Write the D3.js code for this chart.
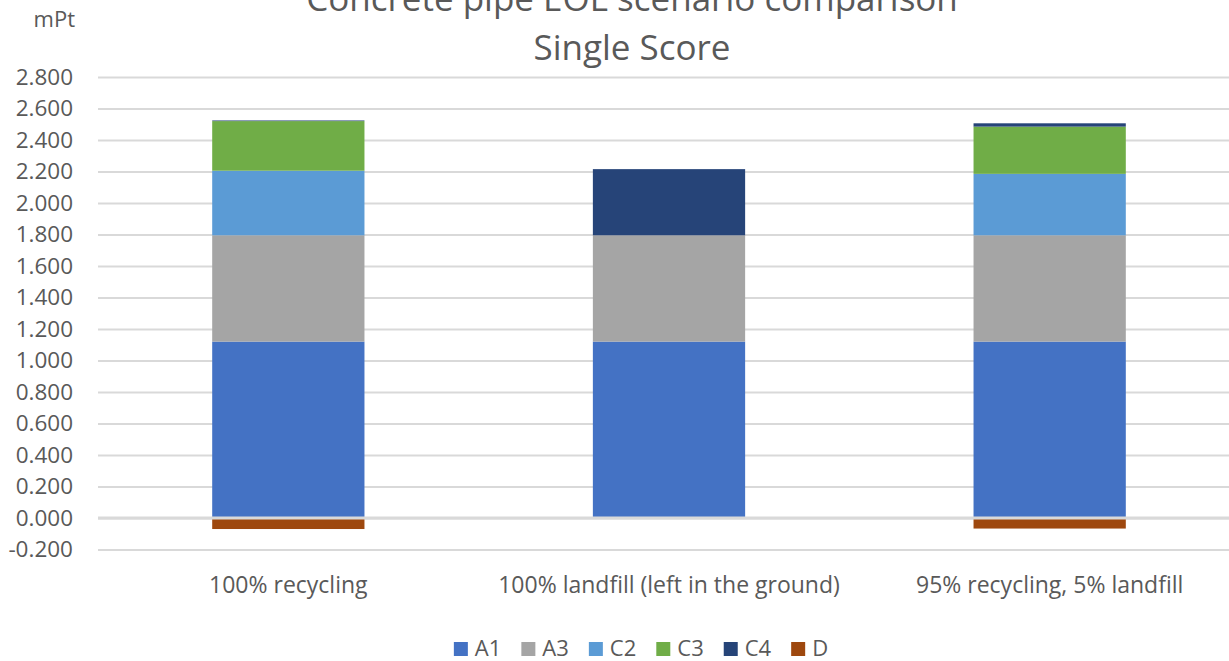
<!DOCTYPE html>
<html>
<head>
<meta charset="utf-8">
<script src="https://cdn.jsdelivr.net/npm/d3@7"></script>
<style>
  html, body { margin: 0; padding: 0; background: #ffffff; }
  svg { display: block; font-family: "Open Sans", "Liberation Sans", sans-serif; }
</style>
</head>
<body>
<svg id="chart" width="1229" height="661"></svg>
<script>
// Scenario categories and per-stage single-score contributions (mPt)
const categories = ["100% recycling", "100% landfill (left in the ground)", "95% recycling, 5% landfill"];
const seriesNames = ["A1", "A3", "C2", "C3", "C4", "D"];
const A1 = [1.120, 1.120, 1.120];
const A3 = [0.675, 0.675, 0.675];
const C2 = [0.410, 0.000, 0.390];
const C3 = [0.315, 0.000, 0.300];
const C4 = [0.004, 0.420, 0.021];
const D  = [-0.070, 0.000, -0.067];
const yTickValues = [-0.2, 0, 0.2, 0.4, 0.6, 0.8, 1.0, 1.2, 1.4, 1.6, 1.8, 2.0, 2.2, 2.4, 2.6, 2.8];
const titleLines = ["Concrete pipe EOL scenario comparison", "Single Score"];
const unitLabel = "mPt";

const seriesValues = { A1, A3, C2, C3, C4, D };
const colors = {
  A1: "#4472c4", A3: "#a5a5a5", C2: "#5b9bd5",
  C3: "#70ad47", C4: "#264478", D: "#9e480e"
};

const rows = categories.map((c, i) => {
  const r = { category: c };
  seriesNames.forEach(s => { r[s] = seriesValues[s][i]; });
  return r;
});

const svg = d3.select("#chart");
const textColor = "#595959";
const gridColor = "#d9d9d9";

const plot = { left: 98, right: 1240, top: 77, bottom: 549.5 };

const x = d3.scaleBand()
  .domain(categories)
  .range([plot.left, plot.right])
  .paddingInner(0.6)
  .paddingOuter(0.3);

const y = d3.scaleLinear()
  .domain([-0.2, 2.8])
  .range([plot.bottom, plot.top]);

const locale = d3.formatLocale({ decimal: ".", thousands: ",", grouping: [3], currency: ["", ""], minus: "-" });
const fmt = locale.format(".3f");

// Gridlines and value labels
const yAxis = d3.axisLeft(y)
  .tickValues(yTickValues)
  .tickFormat(fmt)
  .tickSizeInner(-(plot.right - plot.left))
  .tickSizeOuter(0)
  .tickPadding(25);

const gy = svg.append("g")
  .attr("transform", `translate(${plot.left},0)`)
  .call(yAxis);
gy.select(".domain").remove();
gy.selectAll(".tick line").attr("stroke", gridColor).attr("stroke-width", 1.8);
gy.selectAll(".tick text")
  .attr("fill", textColor)
  .style("font-size", "22.5px")
  .style("font-family", "'Open Sans', sans-serif");

// Stacked bars (positive and negative parts stacked separately)
const stack = d3.stack().keys(seriesNames).offset(d3.stackOffsetDiverging);
const layers = stack(rows);

svg.append("g")
  .selectAll("g")
  .data(layers)
  .join("g")
  .attr("fill", d => colors[d.key])
  .selectAll("rect")
  .data(d => d.filter(p => p[1] - p[0] !== 0))
  .join("rect")
  .attr("x", d => x(d.data.category))
  .attr("width", x.bandwidth())
  .attr("y", d => y(Math.max(d[0], d[1])))
  .attr("height", d => Math.abs(y(d[0]) - y(d[1])));

// Horizontal axis line at zero, drawn over the bars
svg.append("line")
  .attr("x1", plot.left).attr("x2", plot.right)
  .attr("y1", y(0)).attr("y2", y(0))
  .attr("stroke", gridColor).attr("stroke-width", 3);

// Category labels
svg.append("g")
  .selectAll("text")
  .data(categories)
  .join("text")
  .attr("x", d => x(d) + x.bandwidth() / 2)
  .attr("y", 593)
  .attr("text-anchor", "middle")
  .attr("fill", textColor)
  .style("font-size", "23px")
  .text(d => d);

// Title
svg.append("g")
  .selectAll("text")
  .data(titleLines)
  .join("text")
  .attr("x", 632)
  .attr("y", (d, i) => 11 + i * 49)
  .attr("text-anchor", "middle")
  .attr("fill", textColor)
  .style("font-size", "35px")
  .text(d => d);

// Unit label
svg.append("text")
  .attr("x", 75).attr("y", 27)
  .attr("text-anchor", "end")
  .attr("fill", textColor)
  .style("font-size", "22px")
  .text(unitLabel);

// Legend, laid out from measured label widths
const legend = svg.append("g");
const items = legend.selectAll("g")
  .data(seriesNames)
  .join("g");
items.append("rect")
  .attr("width", 14).attr("height", 14)
  .attr("y", -14)
  .attr("fill", d => colors[d]);
items.append("text")
  .attr("x", 21)
  .attr("y", 0)
  .attr("fill", textColor)
  .style("font-size", "22px")
  .text(d => d);

let offset = 0;
const positions = [];
items.each(function () {
  const w = d3.select(this).select("text").node().getComputedTextLength();
  positions.push(offset);
  offset += 21 + w + 20;
});
const totalW = offset - 20;
const legendLeft = 641 - totalW / 2;
items.attr("transform", (d, i) => `translate(${legendLeft + positions[i]},656)`);
</script>
</body>
</html>
